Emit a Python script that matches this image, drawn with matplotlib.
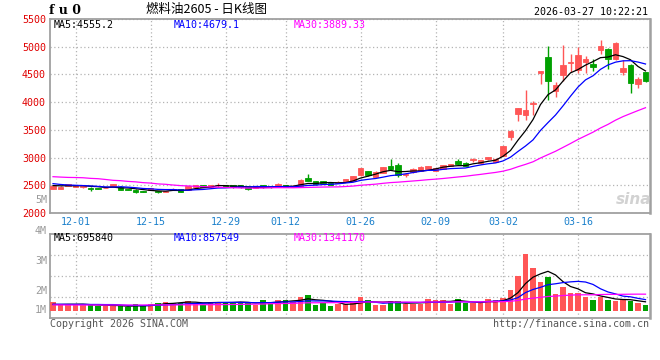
import numpy as np
import pandas as pd
import matplotlib
matplotlib.use("Agg")
import matplotlib.pyplot as plt

# trading days shown on the chart
dates = ["11-26", "11-27", "11-28", "12-01", "12-02", "12-03", "12-04", "12-05", "12-08", "12-09",
         "12-10", "12-11", "12-12", "12-15", "12-16", "12-17", "12-18", "12-19", "12-22", "12-23",
         "12-24", "12-25", "12-26", "12-29", "12-30", "12-31", "01-05", "01-06", "01-07", "01-08",
         "01-09", "01-12", "01-13", "01-14", "01-15", "01-16", "01-19", "01-20", "01-21", "01-22",
         "01-23", "01-26", "01-27", "01-28", "01-29", "01-30", "02-02", "02-03", "02-04", "02-05",
         "02-06", "02-09", "02-10", "02-11", "02-12", "02-13", "02-24", "02-25", "02-26", "02-27",
         "03-02", "03-03", "03-04", "03-05", "03-06", "03-09", "03-10", "03-11", "03-12", "03-13",
         "03-16", "03-17", "03-18", "03-19", "03-20", "03-23", "03-24", "03-25", "03-26", "03-27"]

opens = [2441, 2441, 2488, 2478, 2462, 2458, 2455, 2450, 2476, 2476,
         2430, 2420, 2400, 2418, 2400, 2380, 2418, 2430, 2420, 2478,
         2498, 2478, 2510, 2506, 2500, 2500, 2488, 2455, 2500, 2485,
         2470, 2505, 2470, 2490, 2630, 2570, 2575, 2550, 2540, 2575,
         2575, 2680, 2750, 2655, 2728, 2840, 2870, 2692, 2740, 2758,
         2788, 2760, 2800, 2848, 2932, 2908, 2962, 2898, 2972, 2922,
         3030, 3368, 3789, 3760, 3975, 4530, 4822, 4199, 4496, 4715,
         4573, 4721, 4691, 4941, 4958, 4780, 4543, 4662, 4335, 4543]
highs = [2495, 2482, 2530, 2505, 2488, 2462, 2458, 2465, 2530, 2480,
         2435, 2425, 2405, 2455, 2405, 2405, 2450, 2435, 2488, 2512,
         2505, 2510, 2547, 2512, 2505, 2506, 2495, 2490, 2505, 2490,
         2535, 2510, 2500, 2610, 2705, 2575, 2585, 2555, 2575, 2620,
         2668, 2812, 2755, 2755, 2835, 2970, 2910, 2725, 2810, 2840,
         2855, 2815, 2870, 2890, 2982, 2915, 3000, 2965, 3018, 2990,
         3215, 3495, 3895, 4217, 4021, 4565, 5018, 4365, 5036, 4869,
         5000, 4840, 4780, 5125, 4975, 5089, 4763, 4691, 4454, 4550]
lows = [2435, 2436, 2482, 2470, 2458, 2399, 2430, 2445, 2470, 2410,
        2410, 2365, 2375, 2412, 2360, 2375, 2412, 2370, 2415, 2472,
        2465, 2475, 2476, 2465, 2458, 2460, 2418, 2450, 2460, 2460,
        2465, 2465, 2465, 2485, 2570, 2512, 2535, 2505, 2535, 2570,
        2570, 2672, 2675, 2645, 2720, 2780, 2655, 2646, 2730, 2750,
        2780, 2750, 2792, 2842, 2872, 2842, 2927, 2890, 2965, 2915,
        3020, 3314, 3653, 3682, 3771, 4325, 4039, 4086, 4377, 4543,
        4525, 4525, 4561, 4869, 4602, 4763, 4484, 4157, 4258, 4370]
closes = [2488, 2476, 2524, 2500, 2480, 2429, 2441, 2458, 2524, 2417,
          2415, 2375, 2385, 2445, 2372, 2395, 2442, 2378, 2480, 2506,
          2470, 2506, 2513, 2470, 2462, 2465, 2430, 2480, 2465, 2465,
          2525, 2470, 2490, 2600, 2580, 2520, 2540, 2510, 2565, 2612,
          2660, 2805, 2680, 2748, 2828, 2788, 2680, 2698, 2798, 2828,
          2845, 2805, 2858, 2882, 2880, 2850, 2966, 2955, 3010, 2980,
          3205, 3487, 3890, 3860, 3985, 4562, 4377, 4317, 4662, 4725,
          4858, 4780, 4632, 5018, 4780, 5065, 4614, 4347, 4412, 4377]
# volume, millions of lots
volumes = [0.86, 0.64, 0.55, 0.55, 0.55, 0.64, 0.46, 0.46, 0.46, 0.46,
           0.34, 0.64, 0.46, 0.64, 0.77, 0.86, 0.77, 0.77, 0.95, 0.71,
           0.55, 0.86, 0.86, 0.86, 0.77, 0.77, 0.71, 0.55, 1.01, 0.77,
           1.01, 1.01, 0.86, 1.26, 1.47, 0.55, 0.77, 0.46, 0.64, 0.64,
           0.71, 1.26, 1.01, 0.55, 0.55, 0.92, 0.92, 0.64, 0.64, 0.64,
           1.10, 1.01, 1.01, 0.64, 1.10, 0.71, 0.71, 0.71, 1.10, 1.01,
           1.17, 1.93, 3.22, 5.25, 3.93, 2.70, 3.10, 1.56, 2.18, 1.69,
           1.63, 1.32, 1.01, 1.26, 1.01, 0.92, 1.07, 0.92, 0.77, 0.55]

# MA values before the window is full
ma5_head = [2495, 2490, 2492, 2490]
ma10_head = [2530, 2515, 2505, 2500, 2495, 2488, 2480, 2470, 2468]
ma30_head = [2655, 2648, 2642, 2640, 2636, 2625, 2619, 2605, 2590, 2583,
             2570, 2562, 2548, 2540, 2525, 2518, 2505, 2494, 2488, 2482,
             2476, 2470, 2465, 2460, 2456, 2452, 2450, 2450, 2452]
vma5_head = [0.60, 0.60, 0.62, 0.62]
vma10_head = [0.62, 0.62, 0.61, 0.61, 0.61, 0.60, 0.60, 0.59, 0.59]
vma30_head = [0.56, 0.56, 0.55, 0.55, 0.55, 0.55, 0.55, 0.55, 0.55, 0.55,
              0.55, 0.55, 0.55, 0.56, 0.56, 0.56, 0.56, 0.57, 0.57, 0.57,
              0.58, 0.58, 0.59, 0.59, 0.60, 0.61, 0.62, 0.63, 0.64]

tick_dates = ["12-01", "12-15", "12-29", "01-12", "01-26", "02-09", "03-02", "03-16"]
price_ticks = [2000, 2500, 3000, 3500, 4000, 4500, 5000, 5500]
vol_labels = ["5M", "4M", "3M", "2M", "1M"]
vol_label_y = [200, 231, 261, 291, 310]


def with_head(values, n, head):
    s = pd.Series(values, dtype=float).rolling(n).mean()
    s.iloc[:len(head)] = head
    return s.values


ma5 = with_head(closes, 5, ma5_head)
ma10 = with_head(closes, 10, ma10_head)
ma30 = with_head(closes, 30, ma30_head)
vma5 = with_head(volumes, 5, vma5_head)
vma10 = with_head(volumes, 10, vma10_head)
vma30 = with_head(volumes, 30, vma30_head)

RED = "#ff5656"
GREEN = "#00a000"
GRID = "#b4b4b4"
BORDER = "#a0a0a0"
MONO = "DejaVu Sans Mono"

W, H = 660, 360
fig = plt.figure(figsize=(6.6, 3.6), dpi=100)
fig.patch.set_facecolor("white")


def px(x, y):
    return x / W, 1 - y / H


ax = fig.add_axes([50 / W, 1 - 213 / H, 600 / W, 194 / H])
axv = fig.add_axes([50 / W, 1 - 318 / H, 600 / W, 84 / H])

x = np.arange(len(dates))
o = np.array(opens)
c = np.array(closes)
up = c >= o
colors = np.where(up, RED, GREEN)

# candles
ax.vlines(x, lows, highs, colors=colors, linewidth=1.0, zorder=3)
ax.bar(x, np.abs(c - o), bottom=np.minimum(o, c), width=0.75,
       color=colors, edgecolor=colors, linewidth=0.6, zorder=3)
ax.plot(x, ma5, color="black", lw=0.9, zorder=4)
ax.plot(x, ma10, color="#0000ff", lw=0.9, zorder=4)
ax.plot(x, ma30, color="#ff00ff", lw=0.9, zorder=4)

# volume
axv.bar(x, volumes, width=0.75, color=colors, linewidth=0, zorder=3)
axv.plot(x, vma5, color="black", lw=0.9, zorder=4)
axv.plot(x, vma10, color="#0000ff", lw=0.9, zorder=4)
axv.plot(x, vma30, color="#ff00ff", lw=0.9, zorder=4)

tick_pos = [dates.index(d) for d in tick_dates]
for a in (ax, axv):
    a.set_xlim(-0.4, 79.6)
    a.set_xticks(tick_pos)
    a.grid(True, color=GRID, linestyle=(0, (1, 2)), linewidth=0.9, zorder=0)
    a.tick_params(length=0)
    for sp in a.spines.values():
        sp.set_color(BORDER)
        sp.set_linewidth(1.3)
    a.spines["right"].set_linewidth(1.8)
    a.set_axisbelow(True)

ax.set_ylim(2000, 5500)
ax.set_yticks(price_ticks)
ax.set_yticklabels([str(t) for t in price_ticks], color="#e00000",
                   fontfamily=MONO, fontsize=7.2)
ax.set_xticklabels(tick_dates, color="#1a80cc", fontfamily=MONO, fontsize=7.2)
ax.tick_params(axis="y", pad=3)
ax.tick_params(axis="x", pad=3)

vlo, vhi = -0.64, 7.06
axv.set_ylim(vlo, vhi)
axv.set_yticks(np.linspace(vlo, vhi, 5)[1:-1])
axv.set_yticklabels([])
axv.set_xticklabels([])

for lab, yy in zip(vol_labels, vol_label_y):
    fig.text(*px(47, yy), lab, color="#999999", fontfamily=MONO, fontsize=7.2,
             ha="right", va="center")

# header texts
fig.text(*px(49, 11), "f u 0", fontfamily="DejaVu Serif", fontweight="bold",
         fontsize=9, ha="left", va="center")
fig.text(*px(207, 10), "燃料油2605 - 日K线图", fontfamily=["Noto Sans CJK SC", "DejaVu Sans"],
         fontsize=9, ha="center", va="center")
fig.text(*px(648, 12), "2026-03-27 10:22:21", fontfamily=MONO, fontsize=7.2,
         ha="right", va="center")

# MA legends
fig.text(*px(54, 25), "MA5:4555.2", color="black", fontfamily=MONO, fontsize=7.2, va="center")
fig.text(*px(174, 25), "MA10:4679.1", color="#0000ff", fontfamily=MONO, fontsize=7.2, va="center")
fig.text(*px(294, 25), "MA30:3889.33", color="#ff00ff", fontfamily=MONO, fontsize=7.2, va="center")
fig.text(*px(54, 238), "MA5:695840", color="black", fontfamily=MONO, fontsize=7.2, va="center")
fig.text(*px(174, 238), "MA10:857549", color="#0000ff", fontfamily=MONO, fontsize=7.2, va="center")
fig.text(*px(294, 238), "MA30:1341170", color="#ff00ff", fontfamily=MONO, fontsize=7.2, va="center")

# footer and watermark
fig.text(*px(50, 324), "Copyright 2026 SINA.COM", color="#555555", fontfamily=MONO,
         fontsize=7.2, ha="left", va="center")
fig.text(*px(649, 324), "http://finance.sina.com.cn", color="#555555", fontfamily=MONO,
         fontsize=7.2, ha="right", va="center")
fig.text(*px(634, 199), "sina", color="#d2d2d2", fontfamily="DejaVu Sans", fontweight="bold",
         fontstyle="italic", fontsize=11, ha="center", va="center")

fig.savefig("out.png", dpi=100)
